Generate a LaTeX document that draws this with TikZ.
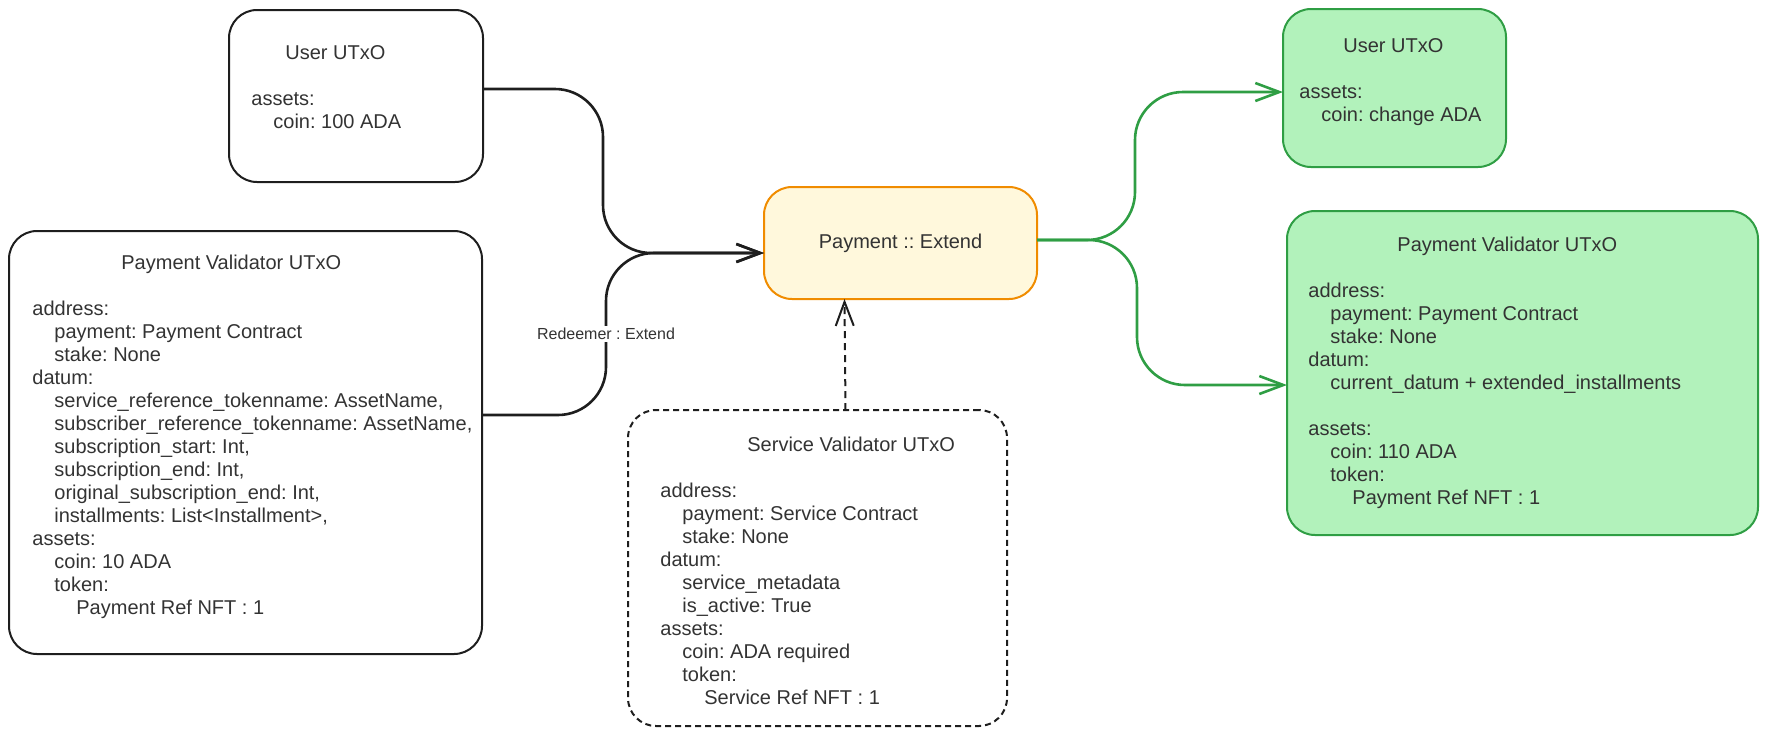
\documentclass[tikz,border=0pt]{standalone}
\usepackage{fontspec}
\setmainfont{Liberation Sans}
\frenchspacing
\usetikzlibrary{arrows.meta}
\definecolor{ink}{HTML}{1E1E1E}
\definecolor{txt}{HTML}{333333}
\definecolor{outfill}{HTML}{B2F2BB}
\definecolor{outline}{HTML}{2F9E44}
\definecolor{txfill}{HTML}{FFF8DC}
\definecolor{txline}{HTML}{F08C00}
\newcommand{\pad}{\hspace*{11pt}}
\tikzset{
  utxo/.style={draw=ink, line width=1pt, rounded corners=14pt, inner sep=0pt, outer sep=0pt},
  outbox/.style={utxo, draw=outline, fill=outfill},
  txbox/.style={utxo, draw=txline, fill=txfill, text=txt, font=\fontsize{10}{11.5}\selectfont},
  refbox/.style={utxo, dash pattern=on 3pt off 2pt},
  block/.style={anchor=north west, align=left, inner sep=0pt, text=txt, font=\fontsize{10}{11.5}\selectfont},
  flow/.style={draw=ink, line width=1.3pt, rounded corners=24pt, -{Straight Barb[length=12pt,width=9pt]}},
  outflow/.style={flow, draw=outline},
  lbl/.style={fill=white, inner sep=1pt, text=txt, font=\fontsize{8}{9}\selectfont}
}
\begin{document}
\begin{tikzpicture}[x=0.5pt,y=-0.5pt]
    \useasboundingbox (0,0) rectangle (1768,735);
    % inputs
    \node[utxo, minimum width=127pt, minimum height=86pt] (usrin) at (356,96) {};
    \node[block] (usrintxt) at (251,45.5) {\hspace*{17pt}User UTxO\\[11.5pt]assets:\\\pad coin: 100 ADA};
    \node[utxo, minimum width=236.5pt, minimum height=211.5pt] (payin) at (245.5,442.5) {};
    \node[block] (payintxt) at (32,254.5) {\hspace*{44.5pt}Payment Validator UTxO\\[11.5pt]address:\\
        \pad payment: Payment Contract\\\pad stake: None\\datum:\\
        \pad service\_reference\_tokenname: AssetName,\\
        \pad subscriber\_reference\_tokenname: AssetName,\\
        \pad subscription\_start: Int,\\\pad subscription\_end: Int,\\
        \pad original\_subscription\_end: Int,\\\pad installments: List<Installment>,\\
        assets:\\\pad coin: 10 ADA\\\pad token:\\\pad\pad Payment Ref NFT : 1};
    % transaction
    \node[txbox, minimum width=136.5pt, minimum height=56pt] (ext) at (900.5,243) {Payment :: Extend};
    % reference input
    \node[refbox, minimum width=189.5pt, minimum height=158pt] (svc) at (817.5,568) {};
    \node[block] (svctxt) at (660,436.5) {\hspace*{43.5pt}Service Validator UTxO\\[11.5pt]address:\\
        \pad payment: Service Contract\\\pad stake: None\\datum:\\
        \pad service\_metadata\\\pad is\_active: True\\
        assets:\\\pad coin: ADA required\\\pad token:\\\pad\pad Service Ref NFT : 1};
    % outputs
    \node[outbox, minimum width=111.5pt, minimum height=79pt] (usrout) at (1394.5,88) {};
    \node[block] (usrouttxt) at (1299,38.5) {\hspace*{22pt}User UTxO\\[11.5pt]assets:\\\pad coin: change ADA};
    \node[outbox, minimum width=235.5pt, minimum height=162pt] (payout) at (1522.5,373) {};
    \node[block] (payouttxt) at (1308,236.5) {\hspace*{44.5pt}Payment Validator UTxO\\[11.5pt]address:\\
        \pad payment: Payment Contract\\\pad stake: None\\datum:\\
        \pad current\_datum + extended\_installments\\[11.5pt]
        assets:\\\pad coin: 110 ADA\\\pad token:\\\pad\pad Payment Ref NFT : 1};
    % edges
    \draw[flow] ([yshift=3.5pt]usrin.east) -- ++(60pt,0) |- ([yshift=-5pt]ext.west);
    \draw[flow] ([yshift=13.75pt]payin.east) -- ++(62pt,0)
        |- node[lbl, pos=0.25] (rdm) {Redeemer : Extend} ([yshift=-5pt]ext.west);
    \draw[flow, line width=1pt, dash pattern=on 3.5pt off 2.5pt] ([xshift=14pt]svc.north) -- ([xshift=-28pt]ext.south);
    \draw[outflow] ([yshift=1.5pt]ext.east) -- ++(49pt,0) |- ([yshift=-2pt]usrout.west);
    \draw[outflow] ([yshift=1.5pt]ext.east) -- ++(50pt,0) |- ([yshift=-6pt]payout.west);
\end{tikzpicture}
\end{document}
